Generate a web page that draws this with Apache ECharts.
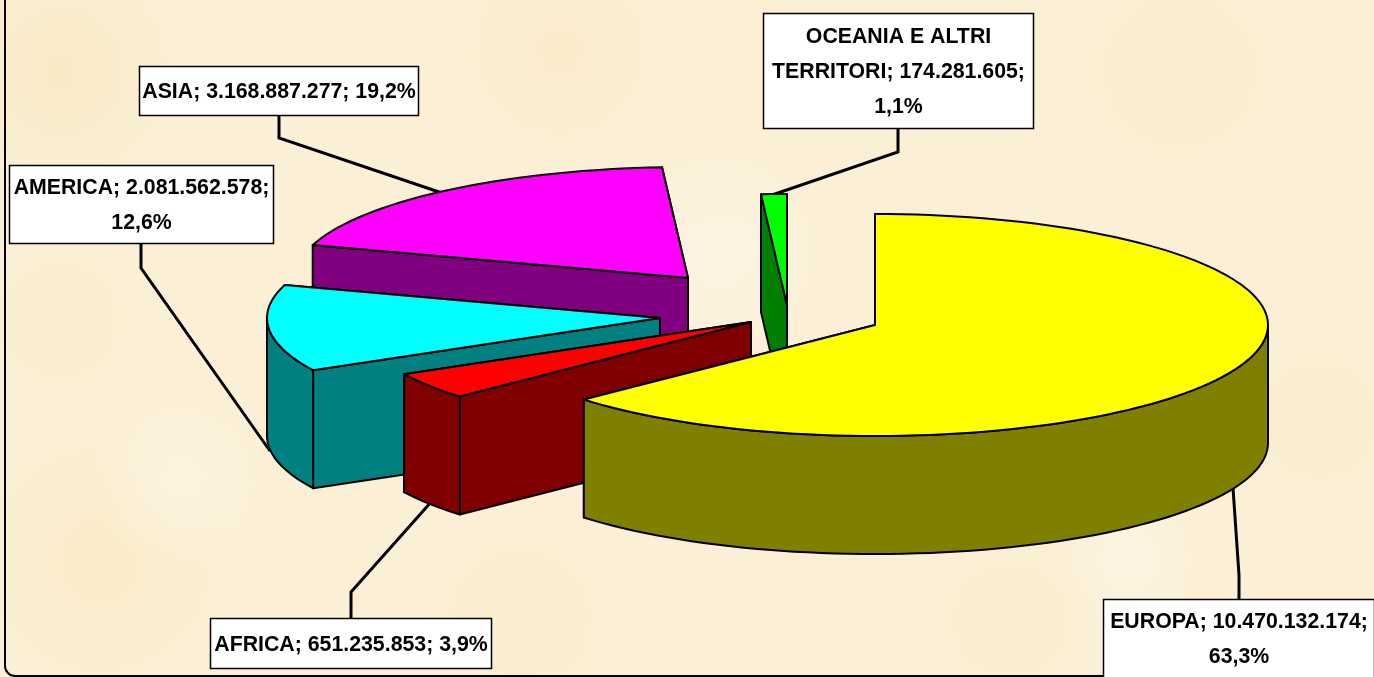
<!DOCTYPE html>
<html>
<head>
<meta charset="utf-8">
<style>
  html, body { margin: 0; padding: 0; background: #fbf0d6; }
  #main { width: 1374px; height: 677px; }
</style>
</head>
<body>
<div id="main"></div>
<script src="https://cdn.jsdelivr.net/npm/echarts@6/dist/echarts.min.js"></script>
<script>
  // dati
  const names = ['EUROPA', 'AFRICA', 'AMERICA', 'ASIA', 'OCEANIA E ALTRI TERRITORI'];
  const values = [10470132174, 651235853, 2081562578, 3168887277, 174281605];
  const labels = [
    'EUROPA; 10.470.132.174;\n63,3%',
    'AFRICA; 651.235.853; 3,9%',
    'AMERICA; 2.081.562.578;\n12,6%',
    'ASIA; 3.168.887.277; 19,2%',
    'OCEANIA E ALTRI\nTERRITORI; 174.281.605;\n1,1%'
  ];
  const topColors = ['#ffff00', '#ff0000', '#00ffff', '#ff00ff', '#00ff00'];
  const wallColors = ['#808000', '#800000', '#008080', '#800080', '#008000'];

  // layout: torta esplosa, non sono dati
  const RX = 393, RY = 111, DEPTH = 118;
  const LINE_H = 35;
  const apexes = [[875, 325], [751, 322], [660, 318], [688, 278], [787, 305]];
  const boxes = [[1103, 599, 271, 90], [210, 618, 281, 50], [9, 165, 264, 78], [139, 66, 279, 49], [763, 13, 270, 115]];
  const leaders = [
    [[1239, 599], [1239, 575], [1233, 488]],
    [[351, 618], [351, 592], [432, 501]],
    [[141, 243], [141, 268], [270, 451]],
    [[279, 115], [279, 138], [442, 193]],
    [[898, 128], [898, 152], [772, 195]]
  ];
  // macchie della texture di sfondo
  const blotches = [
    [60, 70, 130, '#f9eac6'], [560, 50, 110, '#faebca'], [1180, 70, 120, '#faecce'],
    [100, 560, 140, '#faebc8'], [520, 620, 110, '#faecce'], [1010, 620, 90, '#faecce'],
    [1320, 420, 90, '#faecce'], [60, 320, 90, '#faecce'], [960, 90, 70, '#faecce'],
    [720, 250, 110, '#fdf3e2'], [180, 480, 90, '#fdf3e0'], [1130, 560, 70, '#fdf4e3']
  ];

  const total = values.reduce((a, b) => a + b, 0);

  function rimPoint(c, deg, dy) {
    const r = deg * Math.PI / 180;
    return [c[0] + RX * Math.sin(r), c[1] - RY * Math.cos(r) + (dy || 0)];
  }

  function arcPoints(c, from, to, dy) {
    const pts = [];
    const n = Math.max(2, Math.ceil((to - from) / 2));
    for (let i = 0; i <= n; i++) {
      pts.push(rimPoint(c, from + (to - from) * i / n, dy));
    }
    return pts;
  }

  function poly(points, fill) {
    return {
      type: 'polygon',
      shape: { points: points },
      style: { fill: fill, stroke: '#000', lineWidth: 2, lineJoin: 'round' }
    };
  }

  function radialWall(c, deg, fill) {
    const p = rimPoint(c, deg);
    return poly([p, c, [c[0], c[1] + DEPTH], [p[0], p[1] + DEPTH]], fill);
  }

  function renderSlice(params, api) {
    const i = api.value(2);
    const start = api.value(1) / total * 360;
    const end = start + api.value(0) / total * 360;
    const c = apexes[i];
    const children = [
      radialWall(c, end, wallColors[i]),
      radialWall(c, start, wallColors[i])
    ];
    // solo la parte frontale del bordo si vede
    const a = Math.max(start, 90), b = Math.min(end, 270);
    if (b > a) {
      children.push(poly(
        arcPoints(c, a, b).concat(arcPoints(c, a, b, DEPTH).reverse()),
        wallColors[i]
      ));
    }
    children.push(poly([c].concat(arcPoints(c, start, end)), topColors[i]));
    return { type: 'group', children: children };
  }

  function renderLabel(params, api) {
    const i = params.dataIndex;
    const b = boxes[i];
    const lines = labels[i].split('\n').length;
    // Europa esce dal bordo in basso: il testo non si centra sul riquadro
    const textTop = i === 0 ? 605 : b[1] + (b[3] - lines * LINE_H) / 2 + 2;
    return {
      type: 'group',
      children: [
        {
          type: 'polyline',
          shape: { points: leaders[i] },
          style: { fill: null, stroke: '#000', lineWidth: 3 }
        },
        {
          type: 'rect',
          shape: { x: b[0] + 0.5, y: b[1] + 0.5, width: b[2], height: b[3] },
          style: { fill: '#fff', stroke: '#000', lineWidth: 1.5 }
        },
        {
          type: 'text',
          x: b[0] + b[2] / 2 + 0.5,
          y: textTop,
          style: {
            text: labels[i],
            font: 'bold 21.3px "Liberation Sans", Arial, sans-serif',
            fill: '#000',
            align: 'center',
            verticalAlign: 'top',
            lineHeight: LINE_H
          }
        }
      ]
    };
  }

  // inizio di ogni fetta, poi dipinte dal fondo verso il davanti
  let sum = 0;
  const sliceRows = values.map((v, i) => {
    const row = [v, sum, i];
    sum += v;
    return row;
  }).reverse();

  const bgGraphic = blotches.map((m) => ({
    type: 'circle',
    silent: true,
    z: -10,
    shape: { cx: m[0], cy: m[1], r: m[2] },
    style: {
      fill: {
        type: 'radial', x: 0.5, y: 0.5, r: 0.5,
        colorStops: [{ offset: 0, color: m[3] }, { offset: 1, color: m[3] + '00' }]
      }
    }
  }));

  const option = {
    animation: false,
    backgroundColor: '#fbf0d6',
    graphic: bgGraphic.concat([{
      type: 'rect',
      silent: true,
      z: -5,
      shape: { x: 5, y: -20, width: 1400, height: 696, r: 10 },
      style: { fill: null, stroke: '#000', lineWidth: 2 }
    }]),
    series: [
      {
        // linee guida ed etichette sotto la torta
        type: 'custom',
        name: 'etichette',
        coordinateSystem: 'none',
        silent: true,
        z: 1,
        data: names.map((n, i) => ({ name: n, value: [values[i]] })),
        renderItem: renderLabel
      },
      {
        type: 'custom',
        name: 'torta',
        coordinateSystem: 'none',
        silent: true,
        z: 2,
        data: sliceRows,
        renderItem: renderSlice
      }
    ]
  };

  const chartObj = echarts.init(document.getElementById('main'));
  chartObj.setOption(option);
</script>
</body>
</html>
